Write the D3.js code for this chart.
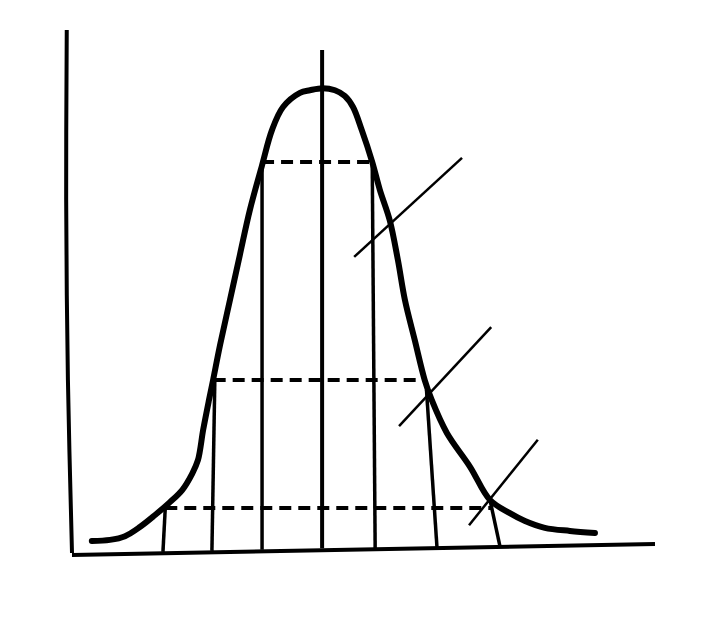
<!DOCTYPE html>
<html>
<head>
<meta charset="utf-8">
<script src="https://cdn.jsdelivr.net/npm/d3@7"></script>
<style>
  html, body { margin: 0; padding: 0; background: #fff; }
  svg { display: block; }
</style>
</head>
<body>
<svg id="chart" width="717" height="624"></svg>
<script>
// Data in normalized units: x 0..100 along the horizontal axis, y 0..100 along the vertical axis
const bellCurve = [
  [3.4, 2.5], [6.5, 2.7], [9.1, 3.4], [11.7, 5.2], [14.2, 7.4], [16.8, 9.9],
  [18.9, 12.2], [20.6, 15.3], [21.6, 17.9], [22.5, 23.7], [23.5, 29.4],
  [24.2, 33.2], [25.4, 39.9], [27.1, 48.5], [28.8, 57.1], [30.5, 65.6],
  [32.6, 74.2], [34.3, 80.9], [36.2, 85.3], [39.1, 88.0], [40.8, 88.5],
  [43.0, 88.9], [45.1, 88.5], [46.8, 87.4], [48.2, 85.3], [49.7, 80.9],
  [51.5, 74.8], [52.8, 69.5], [54.5, 63.7], [55.9, 56.1], [57.1, 48.5],
  [58.8, 40.8], [60.5, 33.2], [61.7, 29.4], [64.3, 23.1], [68.3, 16.6],
  [71.7, 10.3], [75.1, 7.8], [77.7, 6.3], [81.1, 5.0], [85.4, 4.4], [89.7, 4.0]
];
const yAxisLine = [[-0.9, 100], [-1.0, 67.6], [-0.7, 33.2], [0, 0.2]];
const xAxisLine = [[0, -0.2], [100, 1.9]];
const centerLine = [[42.9, 96.2], [42.9, 1.1]];
const verticalLines = [
  [[32.6, 74.6], [32.6, 0.8]],
  [[51.5, 74.2], [52.0, 1.1]],
  [[24.5, 33.2], [24.0, 0.6]],
  [[60.8, 31.3], [62.6, 1.3]],
  [[16.0, 8.8], [15.6, 0.4]],
  [[71.7, 10.3], [73.4, 1.5]]
];
const dashedLevels = [
  [[32.6, 74.8], [52.0, 74.8]],
  [[24.3, 33.2], [60.8, 33.2]],
  [[16.0, 8.8], [72.2, 8.8]]
];
const diagonalMarks = [
  [[48.4, 56.7], [66.9, 75.6]],
  [[56.1, 24.4], [71.9, 43.3]],
  [[68.1, 5.5], [79.9, 21.8]]
];

const svg = d3.select("#chart");
const x = d3.scaleLinear().domain([0, 100]).range([72, 655]);
const y = d3.scaleLinear().domain([0, 100]).range([554, 30]);

const straight = d3.line().x(d => x(d[0])).y(d => y(d[1]));
const smooth = d3.line().x(d => x(d[0])).y(d => y(d[1])).curve(d3.curveCatmullRom.alpha(0.5));

const g = svg.append("g").attr("fill", "none").attr("stroke", "#000")
  .attr("stroke-linecap", "butt").attr("stroke-linejoin", "round");

g.append("path").attr("d", smooth(yAxisLine)).attr("stroke-width", 4);
g.append("path").attr("d", straight(xAxisLine)).attr("stroke-width", 4);

g.selectAll(".dash").data(dashedLevels).join("path")
  .attr("class", "dash").attr("d", straight)
  .attr("stroke-width", 4).attr("stroke-dasharray", "12,7");

g.selectAll(".vert").data(verticalLines).join("path")
  .attr("class", "vert").attr("d", straight).attr("stroke-width", 3.5);

g.append("path").attr("d", straight(centerLine)).attr("stroke-width", 4);

g.selectAll(".diag").data(diagonalMarks).join("path")
  .attr("class", "diag").attr("d", straight).attr("stroke-width", 2.5);

g.append("path").attr("d", smooth(bellCurve)).attr("stroke-width", 6)
  .attr("stroke-linecap", "round");
</script>
</body>
</html>
